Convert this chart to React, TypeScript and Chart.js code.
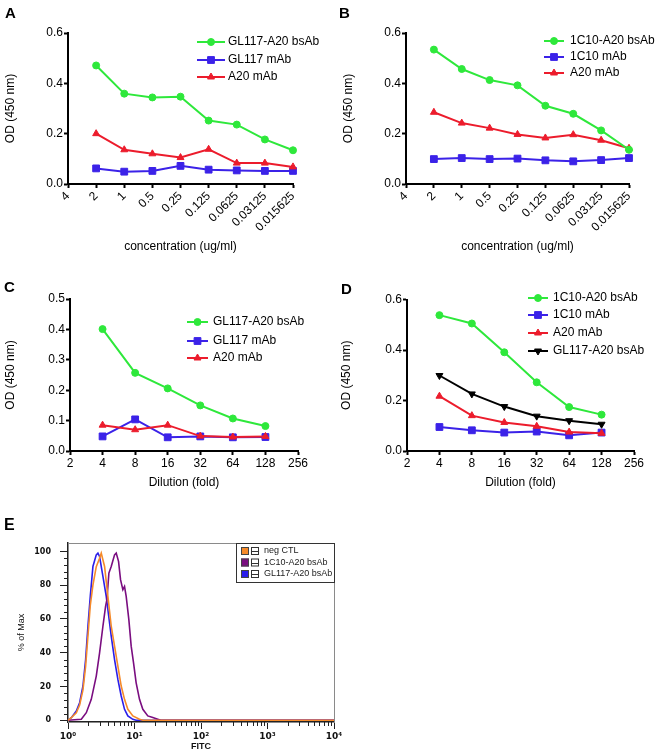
import React, { useEffect, useRef } from 'react';
import { Chart, registerables } from 'chart.js';
import { drawPoint } from 'chart.js/helpers';

Chart.register(...registerables);

const FONT = "'Liberation Sans', Arial, Helvetica, sans-serif";
const FLOWFONT = "'DejaVu Sans', Verdana, sans-serif";
const GREEN = '#2EE83B';
const BLUE = '#3B22E8';
const RED = '#EC1C2C';
const BLACK = '#000000';

// ---------- Panels A & B: concentration (ug/ml) ----------
const concLabels = ['4', '2', '1', '0.5', '0.25', '0.125', '0.0625', '0.03125', '0.015625'];
const aGL117bsAb = [null, 0.471, 0.359, 0.344, 0.347, 0.252, 0.236, 0.177, 0.134];
const aGL117mAb = [null, 0.062, 0.049, 0.052, 0.072, 0.057, 0.054, 0.052, 0.052];
const aA20mAb = [null, 0.2, 0.136, 0.12, 0.105, 0.138, 0.083, 0.083, 0.068];

const b1C10bsAb = [null, 0.534, 0.457, 0.413, 0.392, 0.311, 0.279, 0.213, 0.136];
const b1C10mAb = [null, 0.099, 0.103, 0.099, 0.101, 0.094, 0.09, 0.095, 0.103];
const bA20mAb = [null, 0.285, 0.242, 0.222, 0.197, 0.183, 0.196, 0.174, 0.142];

// ---------- Panels C & D: dilution (fold) ----------
const dilLabels = ['2', '4', '8', '16', '32', '64', '128', '256'];
const cGL117bsAb = [null, 0.401, 0.257, 0.206, 0.15, 0.107, 0.082, null];
const cGL117mAb = [null, 0.048, 0.104, 0.045, 0.048, 0.045, 0.046, null];
const cA20mAb = [null, 0.085, 0.07, 0.085, 0.049, 0.046, 0.048, null];

const d1C10bsAb = [null, 0.538, 0.505, 0.391, 0.272, 0.174, 0.144, null];
const d1C10mAb = [null, 0.095, 0.082, 0.073, 0.077, 0.062, 0.073, null];
const dA20mAb = [null, 0.217, 0.14, 0.113, 0.098, 0.075, 0.07, null];
const dGL117bsAb = [null, 0.299, 0.226, 0.176, 0.138, 0.12, 0.106, null];

// ---------- Panel E: flow histogram, [FITC, % of Max] ----------
const eNegCTL: [number, number][] = [
  [1.0, 0], [1.122, 1.6], [1.334, 4.5], [1.496, 9], [1.679, 18], [1.841, 32], [1.995, 50],
  [2.163, 68], [2.371, 80], [2.661, 91], [2.985, 96], [3.162, 99], [3.548, 91.1], [3.981, 73.4],
  [4.467, 55.7], [5.012, 43.9], [5.623, 32.1], [6.31, 20.3], [7.079, 12.4], [7.943, 6.5],
  [9.441, 2.6], [11.89, 0.6], [13.34, 0], [10000, 0],
];
const e1C10bsAb: [number, number][] = [
  [1.0, 0], [1.585, 0.6], [1.884, 4.5], [2.239, 12.4], [2.661, 26.2], [2.985, 40], [3.35, 55.7],
  [3.673, 67.5], [3.846, 71.5], [4.121, 87.2], [4.467, 91.1], [5.012, 98], [5.309, 99],
  [5.754, 94.1], [6.166, 83.3], [6.683, 77.4], [7.079, 79.3], [7.499, 73.4], [8.222, 59.6],
  [8.913, 43.9], [9.661, 34.1], [10.59, 22.2], [11.89, 12.4], [13.34, 6.5], [15.85, 2.6],
  [18.84, 1.6], [22.39, 0.6], [25, 0], [10000, 0],
];
const eGL117bsAb: [number, number][] = [
  [1.0, 0], [1.122, 1.6], [1.334, 5.5], [1.496, 10.4], [1.679, 20.3], [1.841, 36], [1.995, 55.7],
  [2.163, 73.4], [2.371, 91.1], [2.661, 98], [2.818, 99], [2.985, 97], [3.35, 85.2],
  [3.758, 73.4], [4.467, 49.8], [5.012, 36], [5.623, 24.2], [6.31, 14.4], [7.079, 6.5],
  [7.943, 2.6], [9.441, 0.6], [10.59, 0], [10000, 0],
];
const eXTicks = [1, 10, 100, 1000, 10000];
const eYTicks = [0, 20, 40, 60, 80, 100];
const SUP = ['⁰', '¹', '²', '³', '⁴'];

function lineDs(label: string, data: any[], color: string, style: string, radius: number, order: number, rotation = 0) {
  return {
    label,
    data,
    borderColor: color,
    backgroundColor: color,
    pointBackgroundColor: color,
    pointBorderColor: color,
    pointStyle: style,
    pointRadius: radius,
    pointRotation: rotation,
    pointBorderWidth: 1,
    borderWidth: 2,
    tension: 0,
    clip: false,
    order,
  };
}

function makeLegend(cfg: { x: number; w: number; textX: number; rows: number[] }) {
  return {
    id: 'insideLegend',
    afterDatasetsDraw(chart: any) {
      const ctx = chart.ctx;
      ctx.save();
      chart.data.datasets.forEach((ds: any, i: number) => {
        const y = cfg.rows[i];
        if (y == null) return;
        ctx.strokeStyle = ds.borderColor;
        ctx.lineWidth = ds.borderWidth;
        ctx.beginPath();
        ctx.moveTo(cfg.x, y);
        ctx.lineTo(cfg.x + cfg.w, y);
        ctx.stroke();
        ctx.fillStyle = ds.pointBackgroundColor;
        ctx.strokeStyle = ds.pointBorderColor;
        ctx.lineWidth = 1;
        drawPoint(ctx, { pointStyle: ds.pointStyle, rotation: ds.pointRotation || 0, radius: ds.pointRadius, borderWidth: 1 } as any, cfg.x + cfg.w / 2, y);
        ctx.fillStyle = '#000';
        ctx.font = `12px ${FONT}`;
        ctx.textBaseline = 'middle';
        ctx.textAlign = 'left';
        ctx.fillText(ds.label, cfg.textX, y);
      });
      ctx.restore();
    },
  };
}

type OdParams = {
  labels: string[];
  datasets: any[];
  width: number;
  height: number;
  area: { left: number; right: number; top: number; bottom: number };
  yMax: number;
  yStep: number;
  rot: number;
  xTitle: string;
  yTitlePad: number;
  legend: { x: number; w: number; textX: number; rows: number[] };
};

function odConfig(p: OdParams): any {
  const font = { family: FONT, size: 12 };
  const grid = { display: true, drawOnChartArea: false, drawTicks: true, tickLength: 4, tickWidth: 2, tickColor: BLACK };
  const border = { display: true, color: BLACK, width: 2 };
  return {
    type: 'line',
    data: { labels: p.labels, datasets: p.datasets },
    options: {
      animation: false,
      responsive: false,
      maintainAspectRatio: false,
      layout: { padding: { left: 0, top: p.area.top, right: p.width - p.area.right, bottom: 0 } },
      plugins: { legend: { display: false }, tooltip: { enabled: false }, title: { display: false } },
      scales: {
        x: {
          type: 'category',
          offset: false,
          grid,
          border,
          ticks: { font, color: BLACK, autoSkip: false, minRotation: p.rot, maxRotation: p.rot, padding: 1 },
          title: { display: true, text: p.xTitle, font, color: BLACK, padding: { top: 0, bottom: 4 } },
          afterFit: (s: any) => {
            s.height = p.height - p.area.bottom;
          },
        },
        y: {
          min: 0,
          max: p.yMax,
          grid,
          border,
          ticks: { font, color: BLACK, stepSize: p.yStep, padding: 1, callback: (v: any) => Number(v).toFixed(1) },
          title: { display: true, text: 'OD (450 nm)', font, color: BLACK, padding: { top: p.yTitlePad, bottom: 0 } },
          afterFit: (s: any) => {
            s.width = p.area.left;
          },
        },
      },
    },
    plugins: [makeLegend(p.legend)],
  };
}

const makeA = () =>
  odConfig({
    labels: concLabels,
    datasets: [
      lineDs('GL117-A20 bsAb', aGL117bsAb, GREEN, 'circle', 3.5, 0),
      lineDs('GL117 mAb', aGL117mAb, BLUE, 'rect', 4.8, 2),
      lineDs('A20 mAb', aA20mAb, RED, 'triangle', 4, 1),
    ],
    width: 331,
    height: 258,
    area: { left: 68, right: 293, top: 33, bottom: 184 },
    yMax: 0.6,
    yStep: 0.2,
    rot: 45,
    xTitle: 'concentration (ug/ml)',
    yTitlePad: 3,
    legend: { x: 197, w: 28, textX: 228, rows: [42, 60, 77] },
  });

const makeB = () =>
  odConfig({
    labels: concLabels,
    datasets: [
      lineDs('1C10-A20 bsAb', b1C10bsAb, GREEN, 'circle', 3.5, 0),
      lineDs('1C10 mAb', b1C10mAb, BLUE, 'rect', 4.8, 2),
      lineDs('A20 mAb', bA20mAb, RED, 'triangle', 4, 1),
    ],
    width: 331,
    height: 258,
    area: { left: 75, right: 298, top: 33, bottom: 184 },
    yMax: 0.6,
    yStep: 0.2,
    rot: 45,
    xTitle: 'concentration (ug/ml)',
    yTitlePad: 10,
    legend: { x: 213, w: 20, textX: 239, rows: [41, 57, 73] },
  });

const makeC = () =>
  odConfig({
    labels: dilLabels,
    datasets: [
      lineDs('GL117-A20 bsAb', cGL117bsAb, GREEN, 'circle', 3.5, 0),
      lineDs('GL117 mAb', cGL117mAb, BLUE, 'rect', 4.8, 2),
      lineDs('A20 mAb', cA20mAb, RED, 'triangle', 4, 1),
    ],
    width: 331,
    height: 232,
    area: { left: 70, right: 298, top: 37, bottom: 189 },
    yMax: 0.5,
    yStep: 0.1,
    rot: 0,
    xTitle: 'Dilution (fold)',
    yTitlePad: 3,
    legend: { x: 187, w: 21, textX: 213, rows: [60, 79, 96] },
  });

const makeD = () =>
  odConfig({
    labels: dilLabels,
    datasets: [
      lineDs('1C10-A20 bsAb', d1C10bsAb, GREEN, 'circle', 3.5, 0),
      lineDs('1C10 mAb', d1C10mAb, BLUE, 'rect', 4.8, 3),
      lineDs('A20 mAb', dA20mAb, RED, 'triangle', 4, 2),
      lineDs('GL117-A20 bsAb', dGL117bsAb, BLACK, 'triangle', 4, 1, 180),
    ],
    width: 331,
    height: 232,
    area: { left: 76, right: 303, top: 37.5, bottom: 189 },
    yMax: 0.6,
    yStep: 0.2,
    rot: 0,
    xTitle: 'Dilution (fold)',
    yTitlePad: 8,
    legend: { x: 197, w: 20, textX: 222, rows: [36, 53, 71, 89] },
  });

// ---------- Panel E ----------
const ORANGE = '#F58A2A';
const PURPLE = '#7A0D80';
const FBLUE = '#2A1EEA';

const eFrame = {
  id: 'eFrame',
  beforeDatasetsDraw(chart: any) {
    const { ctx, chartArea: a } = chart;
    ctx.save();
    ctx.strokeStyle = '#8a8a8a';
    ctx.lineWidth = 1;
    ctx.strokeRect(a.left + 0.5, a.top + 0.5, a.right - a.left, a.bottom - a.top);
    ctx.restore();
  },
  afterDraw(chart: any) {
    const { ctx, chartArea: a, scales } = chart;
    const x = scales.x;
    const y = scales.y;
    ctx.save();
    ctx.strokeStyle = '#222';
    ctx.lineWidth = 1;
    ctx.beginPath();
    for (let k = 0; k < 4; k++) {
      for (let m = 2; m < 10; m++) {
        const px = Math.round(x.getPixelForValue(m * Math.pow(10, k))) + 0.5;
        ctx.moveTo(px, a.bottom);
        ctx.lineTo(px, a.bottom + 4);
      }
    }
    for (let v = 4; v < 101; v += 4) {
      if (v % 20 === 0) continue;
      const py = Math.round(y.getPixelForValue(v)) + 0.5;
      ctx.moveTo(a.left - 4, py);
      ctx.lineTo(a.left, py);
    }
    ctx.stroke();

    // legend box
    const bx = 236;
    const by = 43;
    const bw = 98;
    const bh = 39;
    ctx.fillStyle = '#fff';
    ctx.fillRect(bx, by, bw, bh);
    ctx.strokeStyle = '#333';
    ctx.strokeRect(bx + 0.5, by + 0.5, bw, bh);
    chart.data.datasets.forEach((ds: any, i: number) => {
      const ry = by + 8 + i * 11.5;
      ctx.fillStyle = ds.borderColor;
      ctx.fillRect(bx + 5, ry - 4, 8, 8);
      ctx.strokeStyle = '#444';
      ctx.strokeRect(bx + 5.5, ry - 3.5, 7, 7);
      ctx.fillStyle = '#fff';
      ctx.fillRect(bx + 15, ry - 4, 8, 8);
      ctx.strokeStyle = '#333';
      ctx.strokeRect(bx + 15.5, ry - 3.5, 7, 7);
      ctx.beginPath();
      ctx.moveTo(bx + 15.5, Math.round(ry) + 0.5);
      ctx.lineTo(bx + 22.5, Math.round(ry) + 0.5);
      ctx.stroke();
      ctx.fillStyle = '#222';
      ctx.font = `9px ${FONT}`;
      ctx.textBaseline = 'middle';
      ctx.textAlign = 'left';
      ctx.fillText(ds.label, bx + 28, ry);
    });
    ctx.restore();
  },
};

const toXY = (arr: [number, number][]) => arr.map(([x, y]) => ({ x, y }));

const makeE = (): any => {
  const W = 345;
  const H = 252;
  const area = { left: 68, right: 334, top: 43, bottom: 222 };
  const eds = (label: string, data: [number, number][], color: string) => ({
    label,
    data: toXY(data),
    borderColor: color,
    backgroundColor: color,
    borderWidth: 1.6,
    pointRadius: 0,
    tension: 0,
    clip: false,
  });
  return {
    type: 'line',
    data: {
      datasets: [
        eds('neg CTL', eNegCTL, ORANGE),
        eds('1C10-A20 bsAb', e1C10bsAb, PURPLE),
        eds('GL117-A20 bsAb', eGL117bsAb, FBLUE),
      ],
    },
    options: {
      animation: false,
      responsive: false,
      maintainAspectRatio: false,
      layout: { padding: { left: 0, top: area.top, right: W - area.right, bottom: 0 } },
      plugins: { legend: { display: false }, tooltip: { enabled: false } },
      scales: {
        x: {
          type: 'logarithmic',
          min: 1,
          max: 10000,
          grid: { display: true, drawOnChartArea: false, tickLength: 7, tickColor: '#222', tickWidth: 1 },
          border: { display: true, color: '#222', width: 1.5 },
          afterBuildTicks: (s: any) => {
            s.ticks = eXTicks.map((v) => ({ value: v }));
          },
          ticks: {
            autoSkip: false,
            maxRotation: 0,
            padding: 2,
            color: '#111',
            font: { family: FLOWFONT, size: 9, weight: 'bold' },
            callback: (v: any) => '10' + SUP[Math.round(Math.log10(Number(v)))],
          },
          title: { display: true, text: 'FITC', color: '#111', font: { family: FONT, size: 9, weight: 'bold' }, padding: { top: 0, bottom: 0 } },
          afterFit: (s: any) => {
            s.height = H - area.bottom;
          },
        },
        y: {
          type: 'linear',
          min: -1,
          max: 105,
          grid: { display: true, drawOnChartArea: false, tickLength: 8, tickColor: '#222', tickWidth: 1 },
          border: { display: true, color: '#222', width: 1.5 },
          afterBuildTicks: (s: any) => {
            s.ticks = eYTicks.map((v) => ({ value: v }));
          },
          ticks: {
            padding: 9,
            color: '#111',
            font: { family: FLOWFONT, size: 8, weight: 'bold' },
            callback: (v: any) => String(v),
          },
          title: { display: true, text: '% of Max', color: '#111', font: { family: FONT, size: 9 }, padding: { top: 16, bottom: 0 } },
          afterFit: (s: any) => {
            s.width = area.left;
          },
        },
      },
    },
    plugins: [eFrame],
  };
};

function ChartCanvas({ left, top, width, height, make }: { left: number; top: number; width: number; height: number; make: () => any }) {
  const ref = useRef<HTMLCanvasElement>(null);
  useEffect(() => {
    const chart = new Chart(ref.current as HTMLCanvasElement, make());
    return () => chart.destroy();
  }, []);
  return <canvas ref={ref} width={width} height={height} style={{ position: 'absolute', left, top, width, height }} />;
}

function Letter({ text, left, top, size = 15 }: { text: string; left: number; top: number; size?: number }) {
  return (
    <div style={{ position: 'absolute', left, top, fontFamily: FONT, fontWeight: 'bold', fontSize: size, lineHeight: `${size}px`, color: '#000' }}>
      {text}
    </div>
  );
}

export default function App() {
  return (
    <div style={{ position: 'absolute', left: 0, top: 0, width: 662, height: 752, background: '#fff', overflow: 'hidden' }}>
      <ChartCanvas left={0} top={0} width={331} height={258} make={makeA} />
      <ChartCanvas left={331} top={0} width={331} height={258} make={makeB} />
      <ChartCanvas left={0} top={262} width={331} height={232} make={makeC} />
      <ChartCanvas left={331} top={262} width={331} height={232} make={makeD} />
      <ChartCanvas left={0} top={500} width={345} height={252} make={makeE} />
      <Letter text="A" left={5} top={5} />
      <Letter text="B" left={339} top={5} />
      <Letter text="C" left={4} top={279} />
      <Letter text="D" left={341} top={281} />
      <Letter text="E" left={4} top={517} size={16} />
    </div>
  );
}
